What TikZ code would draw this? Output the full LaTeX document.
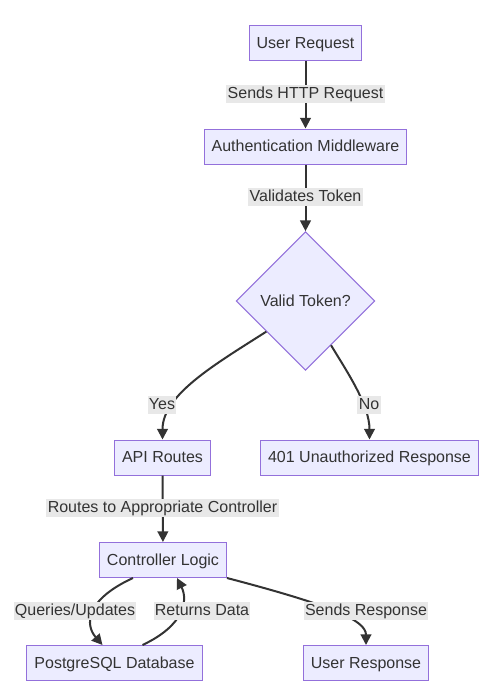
\documentclass[tikz,border=0pt]{standalone}
\usepackage{fontspec}
\setmainfont{Liberation Sans}
\usepackage{xcolor}
\usepackage{tikz}
\usetikzlibrary{positioning,shapes.geometric,arrows.meta}
\definecolor{BoxFill}{HTML}{ECECFF}
\definecolor{BoxLine}{HTML}{9370DB}
\definecolor{InkGray}{HTML}{333333}
\definecolor{LabelGray}{HTML}{E8E8E8}

\begin{document}
\begin{tikzpicture}[
      x=0.75pt, y=-0.75pt,
      every node/.style={align=center, font=\fontsize{12pt}{14pt}\selectfont, text=InkGray},
      box/.style={draw=BoxLine, fill=BoxFill, line width=0.75pt, minimum height=26.25pt, inner xsep=5.6pt, text height=9.5pt, text depth=2pt},
      decision/.style={diamond, aspect=1, draw=BoxLine, fill=BoxFill, line width=0.75pt, minimum size=104pt, inner sep=0pt},
      lbl/.style={fill=LabelGray, inner xsep=1pt, inner ysep=1pt, text height=9pt, text depth=2.5pt},
      arrow/.style={InkGray, line width=1.5pt, -{Triangle[length=8pt, width=8pt]}}
    ]
      \useasboundingbox (0,0) rectangle (498,699);
      % Main chain
      \node[box] (user) at (305.5,43.5) {User Request};
      \node[box] (auth) at (305.5,146.5) {Authentication Middleware};
      \node[decision] (valid) at (305.5,301) {Valid Token?};
      \node[box] (api) at (162.5,457.5) {API Routes};
      \node[box] (unauth) at (369.5,457.5) {401 Unauthorized Response};
      \node[box] (ctrl) at (163,560) {Controller Logic};
      \node[box] (db) at (114.5,663) {PostgreSQL Database};
      \node[box] (resp) at (366,663) {User Response};
      % Arrows
      \draw[arrow] (user) -- (auth);
      \draw[arrow] (auth) -- (valid);
      \draw[arrow] (valid.218) .. controls +(-50,32) and +(0,-45) .. (api.north);
      \draw[arrow] (valid.-60) .. controls +(15,25) and +(0,-35) .. (unauth.north);
      \draw[arrow] (api) -- (ctrl);
      \draw[arrow] ([xshift=-22.5pt]ctrl.south) .. controls (85,600) and (85,625) .. ([xshift=-9pt]db.north);
      \draw[arrow] ([xshift=21pt]db.north) .. controls (185,625) and (188,600) .. ([xshift=10.5pt]ctrl.south);
      \draw[arrow] (ctrl.south east) .. controls (330,605) and (366,620) .. (resp.north);
      % Edge labels
      \node[lbl] (httpreq) at (305.5,94) {Sends HTTP Request};
      \node[lbl] (validates) at (305.5,197) {Validates Token};
      \node[lbl] (yes) at (162,405) {Yes};
      \node[lbl] (no) at (369,405) {No};
      \node[lbl] (routes) at (162.5,508) {Routes to Appropriate Controller};
      \node[lbl] (queries) at (75,611) {Queries/Updates};
      \node[lbl] (returns) at (202,611) {Returns Data};
      \node[lbl] (sends) at (366,611) {Sends Response};
    \end{tikzpicture}
\end{document}
